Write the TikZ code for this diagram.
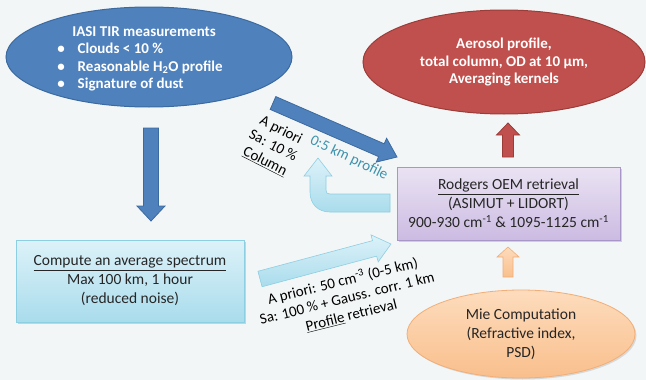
\documentclass[tikz,border=0pt]{standalone}
\usepackage{fontspec}
\setmainfont{Carlito}
\usetikzlibrary{shapes.geometric,calc,shadows}
\definecolor{bg}{HTML}{F3F6F6}
\definecolor{blueF}{HTML}{4F81BD}
\definecolor{blueD}{HTML}{3B6AA0}
\definecolor{redF}{HTML}{C0504D}
\definecolor{redD}{HTML}{9C3C39}
\definecolor{purT}{HTML}{EAE3F3}
\definecolor{purB}{HTML}{CCBBE2}
\definecolor{purD}{HTML}{A996C8}
\definecolor{cyT}{HTML}{DDF2F9}
\definecolor{cyB}{HTML}{A9DCEC}
\definecolor{cyD}{HTML}{8CCFE3}
\definecolor{orT}{HTML}{FDDCBD}
\definecolor{orB}{HTML}{F9BF8C}
\definecolor{orD}{HTML}{F2AE78}
\definecolor{txt}{HTML}{262626}
\definecolor{tealtxt}{HTML}{3E92AE}
\newcommand\blkarrow[6]{%
  \coordinate (hb) at ($(#3)!#6!(#2)$);
  \path[#1] ($(#2)!#4!90:(#3)$) -- ($(hb)!#4!90:(#3)$) -- ($(hb)!#5!90:(#3)$) -- (#3)
    -- ($(hb)!#5!-90:(#3)$) -- ($(hb)!#4!-90:(#3)$) -- ($(#2)!#4!-90:(#3)$) -- cycle;}
\begin{document}
\begin{tikzpicture}[x=1pt,y=-1pt,
  bodyfont/.style={font=\fontsize{15.5}{19}\selectfont},
  whitefont/.style={font=\bfseries\fontsize{15}{17.5}\selectfont, text=white},
  darkell/.style={ellipse, line width=1pt, inner sep=0pt},
  softbox/.style={rectangle, inner sep=0pt, line width=0.8pt, text=txt, align=center, bodyfont,
     drop shadow={shadow xshift=2pt, shadow yshift=-2pt, opacity=0.25, fill=black!60}},
  darkarrow/.style={fill=blueF, draw=blueD, line width=0.8pt, line join=miter},
  redarrow/.style={fill=redF, draw=redD, line width=0.8pt},
  orarrow/.style={top color=orT, bottom color=orB, draw=orD, line width=0.6pt},
  lightarrow/.style={top color=cyT, bottom color=cyB, draw=cyD, line width=0.6pt},
  lbl/.style={font=\fontsize{15}{17.5}\selectfont, align=center, text=black, inner sep=0pt}]
\useasboundingbox (0,0) rectangle (646,380);
\fill[bg] (0,0) rectangle (646,380);

% nodes
\node[darkell, fill=blueF, draw=blueD, minimum width=286pt, minimum height=100pt] (iasi) at (149,57) {};
\node[whitefont, align=left, inner sep=0pt] (iasitext) at (140,59)
  {\hspace*{15pt}IASI TIR measurements\\
   \textbullet\hspace{13pt}Clouds < 10 \%\\
   \textbullet\hspace{13pt}Reasonable H\textsubscript{2}O profile\\
   \textbullet\hspace{13pt}Signature of dust};

\node[darkell, fill=redF, draw=redD, minimum width=282pt, minimum height=104pt,
      whitefont, align=center] (aerosol) at (504,62)
  {Aerosol profile,\\ total column, OD at 10 µm,\\ Averaging kernels};

\node[softbox, top color=purT, bottom color=purB, draw=purD,
      minimum width=223pt, minimum height=73pt] (rodgers) at (508.5,203.5)
  {\underline{Rodgers OEM retrieval}\\ (ASIMUT + LIDORT)\\
   900-930 cm\textsuperscript{-1} \& 1095-1125 cm\textsuperscript{-1}};

\node[softbox, top color=cyT, bottom color=cyB, draw=cyD,
      minimum width=228pt, minimum height=82pt] (compute) at (130,281)
  {\underline{Compute an average spectrum}\\ Max 100 km, 1 hour\\ (reduced noise)};

\node[ellipse, inner sep=0pt, top color=orT, bottom color=orB, draw=orD, line width=0.8pt,
      minimum width=228pt, minimum height=88pt, text=txt, align=center, bodyfont,
      drop shadow={shadow xshift=1.5pt, shadow yshift=-1.5pt, opacity=0.2, fill=black!60}] (mie) at (521,334)
  {Mie Computation\\ (Refractive index,\\ PSD)};

% connector end points
\coordinate (d1) at (151,128);  \coordinate (d2) at (151,221);
\coordinate (r1) at (508,157);  \coordinate (r2) at (508,123);
\coordinate (o1) at (508,277);  \coordinate (o2) at (508,247);
\coordinate (g1) at (273,103);  \coordinate (g2) at (397,157);
\coordinate (l1) at (260,279);  \coordinate (l2) at (391,244);

% block arrows
\blkarrow{darkarrow}{d1}{d2}{7.5pt}{14pt}{15pt}
\blkarrow{redarrow}{r1}{r2}{5.5pt}{11.5pt}{12pt}
\blkarrow{orarrow}{o1}{o2}{5pt}{11pt}{10pt}
\blkarrow{darkarrow}{g1}{g2}{7pt}{13pt}{17pt}
\blkarrow{lightarrow}{l1}{l2}{8pt}{14pt}{17pt}

% U-turn arrow from Rodgers box back up
\path[lightarrow] (390,212) -- (330,212) .. controls (318,212) and (310,204) .. (310,192)
  -- (310,176) -- (304,176) -- (318,158) -- (332,176) -- (326,176) -- (326,190)
  .. controls (326,193) and (327,194) .. (330,194) -- (390,194) -- cycle;

% labels
\node[lbl, rotate=-27] (lab1) at (273,146) {A priori\\ Sa: 10 \%\\ \underline{Column}};
\node[lbl, rotate=-26, text=tealtxt] (lab2) at (349,158) {0:5 km profile};
\node[lbl, rotate=14] (lab3) at (347,298)
  {A priori: 50 cm\textsuperscript{-3} (0-5 km)\\ Sa: 100 \% + Gauss. corr. 1 km\\ \underline{Profile} retrieval};
\end{tikzpicture}
\end{document}
